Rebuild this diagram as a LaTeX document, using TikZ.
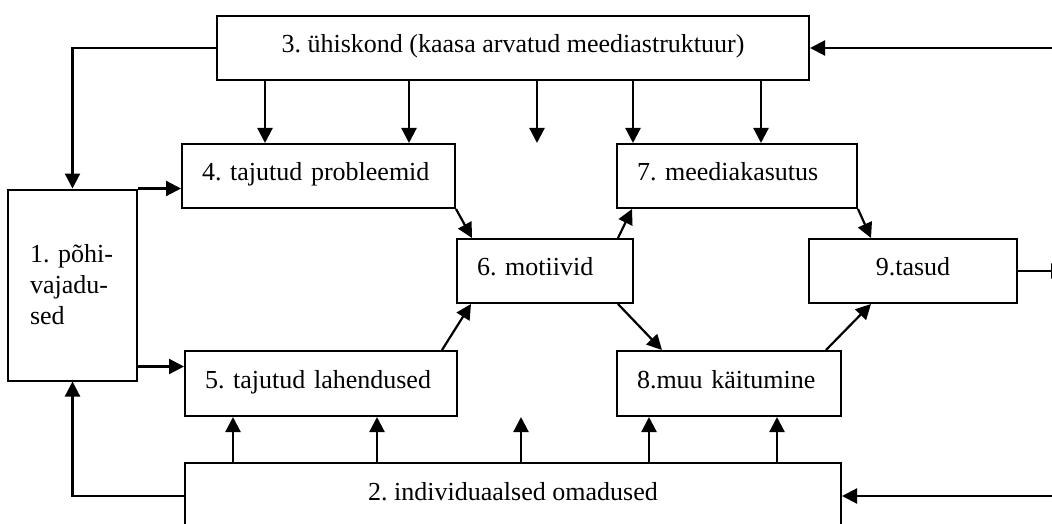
\documentclass[tikz,border=0pt]{standalone}
\usepackage{fontspec}
\setmainfont{Liberation Serif}
\usetikzlibrary{arrows.meta}
\frenchspacing
\begin{document}
\begin{tikzpicture}[x=1pt, y=-1pt, font=\fontsize{26}{31}\selectfont,
		kast/.style={draw, line width=2pt, inner sep=0pt},
		rida/.style={kast, text height=18pt, text depth=9pt},
		vkast/.style={rida, align=left, inner xsep=20pt},
		nool/.style={line width=2.2pt, -{Triangle[length=15pt, width=15pt]}}]
		\useasboundingbox (0,0) rectangle (1052,524);
		\clip (0,0) rectangle (1052,524);
		\node[rida, minimum width=592pt, minimum height=64pt] (uhiskond) at (513,48) {3. ühiskond (kaasa arvatud meediastruktuur)};
		\node[kast, align=left, text width=85pt, inner xsep=22pt, minimum height=191pt] (pohi) at (72.5,285) {1. põhi-\\vajadu-\\sed};
		\node[vkast, text width=233pt, minimum height=64pt] (probl) at (318.5,176) {4. tajutud probleemid};
		\node[vkast, text width=232pt, minimum height=65pt] (lah) at (321,383.5) {5. tajutud lahendused};
		\node[vkast, text width=136pt, minimum height=64pt] (motiiv) at (545,271) {6. motiivid};
		\node[vkast, text width=200pt, minimum height=64pt] (meedia) at (737,176) {7. meediakasutus};
		\node[vkast, text width=184pt, minimum height=65pt] (muu) at (729,383.5) {8.muu käitumine};
		\node[rida, minimum width=208pt, minimum height=64pt] (tasud) at (913,271) {9.tasud};
		\node[rida, minimum width=656pt, minimum height=66pt] (ind) at (513,496) {2. individuaalsed omadused};
		\coordinate (sisse3) at (1052,48);
		\coordinate (sisse2) at (1052,496);
		\coordinate (valja) at (1066,271);
		\coordinate (kesk3) at (537,143);
		\coordinate (kesk2) at (521,417);
		\draw[nool] (sisse3) -- (uhiskond.east);
		\draw[nool] (sisse2) -- (ind.east);
		\draw[nool] (uhiskond.west) -| (pohi.north);
		\draw[nool] (ind.west) -| (pohi.south);
		\draw[nool] (pohi.north east) -- (pohi.north east -| probl.west);
		\draw[nool] ([yshift=15pt]pohi.south east) -- ([yshift=15pt]pohi.south east -| lah.west);
		\foreach \x in {265,409}
		{
			\draw[nool] (uhiskond.south -| \x,0) -- (probl.north -| \x,0);
		}
		\foreach \x in {633,761}
		{
			\draw[nool] (uhiskond.south -| \x,0) -- (meedia.north -| \x,0);
		}
		\draw[nool] (uhiskond.south -| kesk3) -- (kesk3);
		\foreach \x in {233,377}
		{
			\draw[nool] (ind.north -| \x,0) -- (lah.south -| \x,0);
		}
		\foreach \x in {649,777}
		{
			\draw[nool] (ind.north -| \x,0) -- (muu.south -| \x,0);
		}
		\draw[nool] (ind.north -| kesk2) -- (kesk2);
		\draw[nool] (probl.south east) -- ([xshift=16pt]motiiv.north west);
		\draw[nool] ([xshift=-16pt]lah.north east) -- ([xshift=15pt]motiiv.south west);
		\draw[nool] ([xshift=-16pt]motiiv.north east) -- ([xshift=16pt]meedia.south west);
		\draw[nool] ([xshift=-16pt]motiiv.south east) -- ([xshift=46pt]muu.north west);
		\draw[nool] (meedia.south east) -- ([xshift=63pt]tasud.north west);
		\draw[nool] ([xshift=-16pt]muu.north east) -- ([xshift=63pt]tasud.south west);
		\draw[nool] (tasud.east) -- (valja);
\end{tikzpicture}
\end{document}
